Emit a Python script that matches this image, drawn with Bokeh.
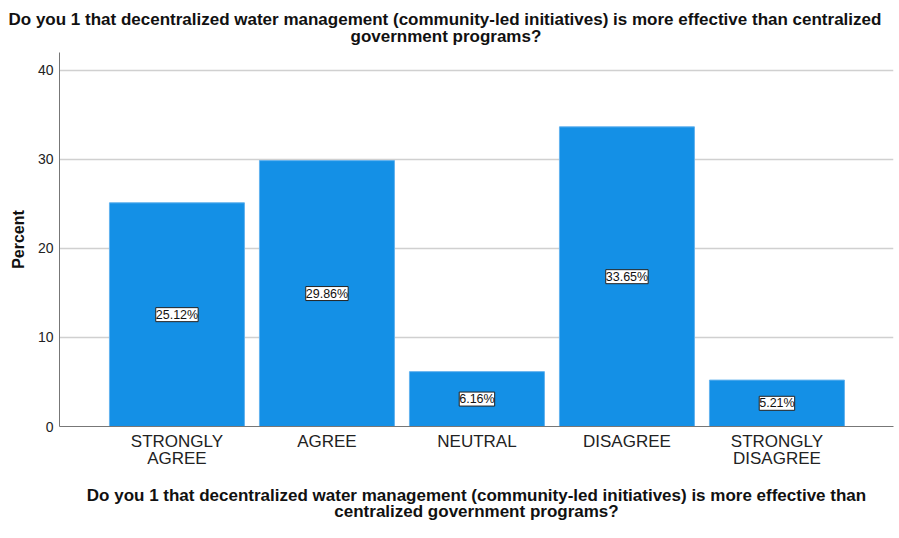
from bokeh.plotting import figure
from bokeh.models import (ColumnDataSource, LabelSet, Title, FixedTicker, Range1d)
from bokeh.core.properties import value
from bokeh.embed import file_html
from bokeh.resources import INLINE

categories = ["STRONGLY\nAGREE", "AGREE", "NEUTRAL", "DISAGREE", "STRONGLY\nDISAGREE"]
percents = [25.12, 29.86, 6.16, 33.65, 5.21]
y_ticks = [0, 10, 20, 30, 40]
title_line1 = "Do you 1 that decentralized water management (community-led initiatives) is more effective than centralized"
title_line2 = "government programs?"
xlabel = ("Do you 1 that decentralized water management (community-led initiatives) is more effective than\n"
          "centralized government programs?")
ylabel = "Percent"

FONT = "Liberation Sans"

xs = list(range(len(categories)))
src = ColumnDataSource(dict(
    x=xs,
    top=percents,
    mid=[v / 2 for v in percents],
    lab=["%.2f%%" % v for v in percents],
))

W, H = 895, 534
p = figure(width=W, height=H, output_backend="svg", toolbar_location=None,
           x_range=Range1d(-0.783, 4.777), y_range=Range1d(0, 42.0),
           min_border_left=59, min_border_right=2, min_border_top=52,
           min_border_bottom=H - 426)
p.outline_line_color = None
p.background_fill_color = "white"
p.border_fill_color = "white"

p.vbar(x="x", top="top", width=0.9, bottom=0, source=src,
       fill_color="#1490E6", line_color="#62B2EE", line_width=1)

labels = LabelSet(x="x", y="mid", text="lab", source=src,
                  text_align="center", text_baseline="middle",
                  text_font=value(FONT), text_font_size="12.5px", text_color="#111111",
                  background_fill_color="white", border_line_color="#222222",
                  border_line_width=1)
p.add_layout(labels)

# titles (second line added first so it sits closer to the plot)
t2 = Title(text=title_line2, align="left", offset=291, text_font=FONT,
           text_font_size="17px", text_font_style="bold", text_color="#111111",
           standoff=14)
t1 = Title(text=title_line1, align="left", offset=-51, text_font=FONT,
           text_font_size="17px", text_font_style="bold", text_color="#111111",
           standoff=-22)
p.add_layout(t2, "above")
p.add_layout(t1, "above")

# x axis
xa = p.xaxis[0]
xa.ticker = FixedTicker(ticks=xs)
xa.major_label_overrides = {i: c for i, c in zip(xs, categories)}
xa.major_tick_in = 0
xa.major_tick_out = 0
xa.minor_tick_in = 0
xa.minor_tick_out = 0
xa.axis_line_color = "#777777"
xa.axis_line_width = 1
xa.major_label_text_font = FONT
xa.major_label_text_font_size = "17px"
xa.major_label_text_line_height = 0.9
xa.major_label_text_color = "#222222"
xa.major_label_standoff = 5
xa.axis_label = xlabel
xa.axis_label_text_font = FONT
xa.axis_label_text_font_size = "17px"
xa.axis_label_text_line_height = 0.86
xa.axis_label_text_font_style = "bold"
xa.axis_label_text_color = "#111111"
xa.axis_label_standoff = 15

# y axis
ya = p.yaxis[0]
ya.ticker = FixedTicker(ticks=y_ticks)
ya.major_tick_in = 0
ya.major_tick_out = 0
ya.minor_tick_in = 0
ya.minor_tick_out = 0
ya.axis_line_color = "#777777"
ya.major_label_text_font = FONT
ya.major_label_text_font_size = "14px"
ya.major_label_text_color = "#222222"
ya.major_label_standoff = 6
ya.axis_label = ylabel
ya.axis_label_text_font = FONT
ya.axis_label_text_font_size = "16px"
ya.axis_label_text_font_style = "bold"
ya.axis_label_text_color = "#111111"
ya.axis_label_standoff = 8

p.xgrid.grid_line_color = None
p.ygrid.ticker = FixedTicker(ticks=[t for t in y_ticks if t > 0])
p.ygrid.grid_line_color = "#D0D0D0"
p.ygrid.grid_line_width = 1.5

open("out.html", "w").write(file_html(p, INLINE))
